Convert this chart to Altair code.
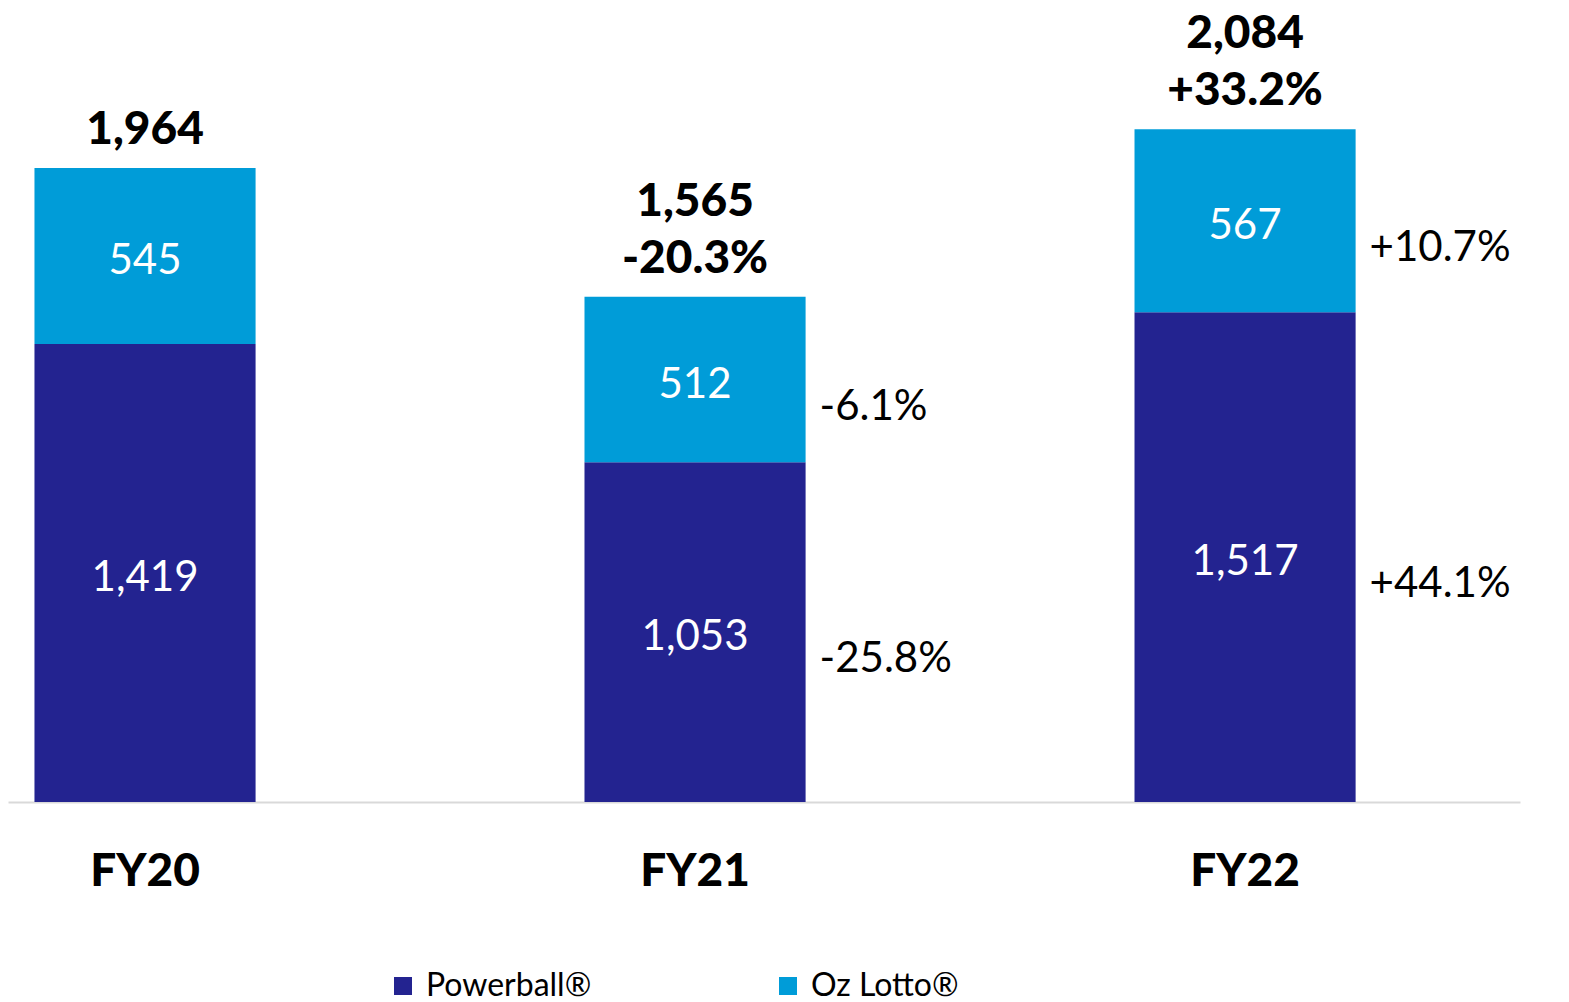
import altair as alt
import pandas as pd

years = ["FY20", "FY21", "FY22"]
products = ["Powerball®", "Oz Lotto®"]
powerball = [1419, 1053, 1517]
oz_lotto = [545, 512, 567]
totals = [1964, 1565, 2084]
total_growth = ["", "-20.3%", "+33.2%"]
powerball_growth = ["", "-25.8%", "+44.1%"]
oz_growth = ["", "-6.1%", "+10.7%"]

colors = ["#232390", "#009CD8"]
FONT = "Lato"

rows = []
for i, y in enumerate(years):
    rows.append({"year": y, "product": products[0], "value": powerball[i], "growth": powerball_growth[i], "ord": 1})
    rows.append({"year": y, "product": products[1], "value": oz_lotto[i], "growth": oz_growth[i], "ord": 2})
df = pd.DataFrame(rows)

tdf = pd.DataFrame({"year": years, "total": totals, "growth": total_growth})

xscale = alt.Scale(domain=years, paddingInner=0.598, paddingOuter=0.1735, align=0.1387)
yscale = alt.Scale(domain=[0, 2460], nice=False, zero=True)

x_enc = alt.X(
    "year:N", scale=xscale, sort=years,
    axis=alt.Axis(title=None, labelAngle=0, labelFontSize=46, labelFont=FONT, labelFontWeight=900,
                  labelColor="#000000", ticks=False, domainColor="#d9d9d9", domainWidth=2,
                  labelPadding=47, grid=False),
)
x_plain = alt.X("year:N", scale=xscale, sort=years)

base = alt.Chart(df).transform_stack(
    stack="value", groupby=["year"], as_=["y0", "y1"], sort=[alt.SortField("ord", order="ascending")]
).transform_calculate(mid="(datum.y0 + datum.y1) / 2")

bars = base.mark_bar().encode(
    x=x_enc,
    y=alt.Y("y1:Q", scale=yscale, axis=None),
    y2="y0:Q",
    color=alt.Color(
        "product:N",
        scale=alt.Scale(domain=products, range=colors),
        legend=alt.Legend(orient="none", legendX=379, legendY=962, direction="horizontal", title=None,
                          symbolType="square", symbolSize=324, symbolStrokeWidth=0, labelFontSize=32,
                          labelFont=FONT, labelColor="#000000", labelOffset=7, labelLimit=400,
                          columnPadding=180, padding=0),
    ),
)

seg_labels = base.mark_text(color="white", fontSize=42, font=FONT, fontWeight=400, baseline="middle", dy=5).encode(
    x=x_plain,
    y=alt.Y("mid:Q", scale=yscale),
    text=alt.Text("value:Q", format=","),
)

growth_labels = base.transform_filter("datum.growth != ''").mark_text(
    color="black", fontSize=42, font=FONT, fontWeight=400, baseline="middle", align="left", dx=14, dy=27
).encode(
    x=alt.X("year:N", scale=xscale, sort=years, bandPosition=1),
    y=alt.Y("mid:Q", scale=yscale),
    text="growth:N",
)

tbase = alt.Chart(tdf)
total_growth_labels = tbase.transform_filter("datum.growth != ''").mark_text(
    color="black", fontSize=46, font=FONT, fontWeight=900, baseline="bottom", dy=-14,
).encode(x=x_plain, y=alt.Y("total:Q", scale=yscale), text="growth:N")

total_single = tbase.transform_filter("datum.growth == ''").mark_text(
    color="black", fontSize=46, font=FONT, fontWeight=900, baseline="bottom", dy=-14,
).encode(x=x_plain, y=alt.Y("total:Q", scale=yscale), text=alt.Text("total:Q", format=","))

total_double = tbase.transform_filter("datum.growth != ''").mark_text(
    color="black", fontSize=46, font=FONT, fontWeight=900, baseline="bottom", dy=-71,
).encode(x=x_plain, y=alt.Y("total:Q", scale=yscale), text=alt.Text("total:Q", format=","))

chart = alt.layer(bars, seg_labels, growth_labels, total_growth_labels, total_single, total_double).properties(
    width=1512, height=794,
    autosize=alt.AutoSizeParams(type="none"),
    padding={"left": 0, "top": 0, "right": 40, "bottom": 200},
    background="white",
).configure_view(strokeWidth=0)

chart.save("out.html", embed_options={"renderer": "svg", "actions": False})
